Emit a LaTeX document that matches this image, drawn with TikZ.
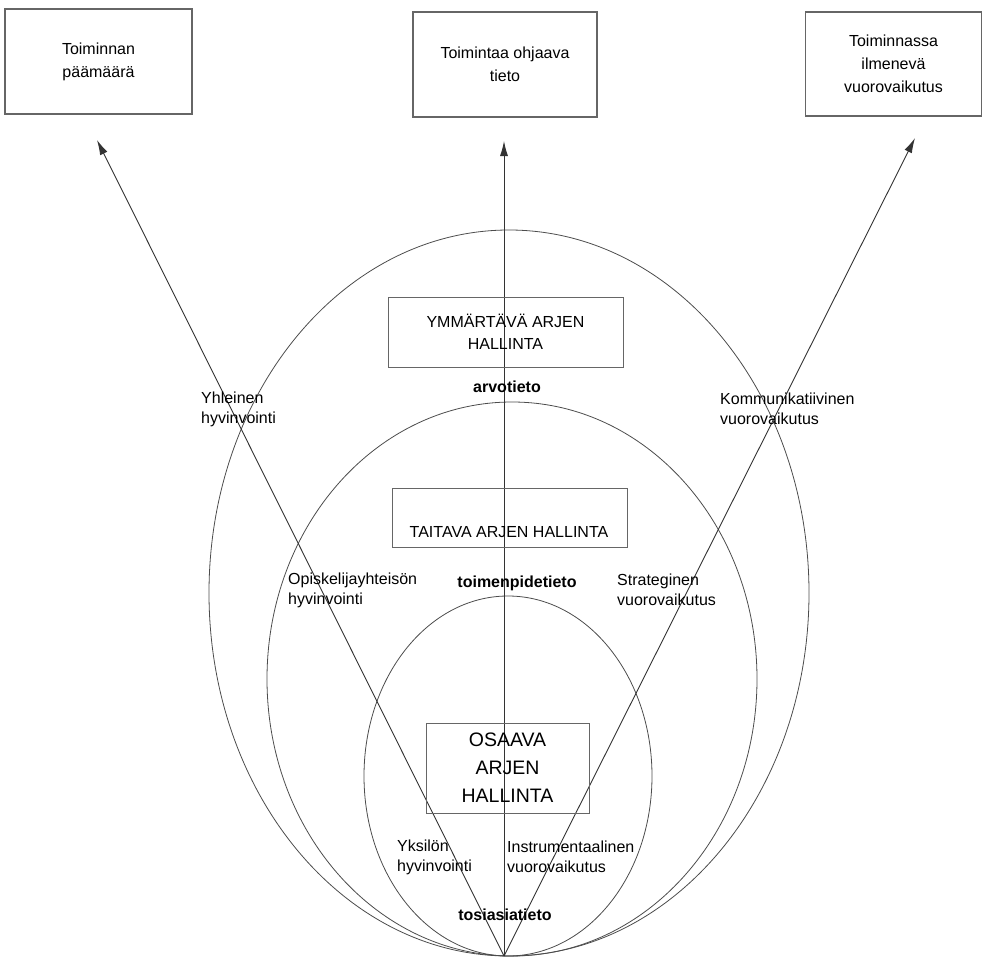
\documentclass[tikz,border=0pt]{standalone}
\usepackage{fontspec}
\setmainfont{Liberation Sans}
\usetikzlibrary{arrows.meta}
\begin{document}
\begin{tikzpicture}[x=1pt,y=-1pt,
  topbox/.style={draw=black!60, line width=1.1pt, align=center, inner sep=0pt,
    font=\fontsize{16pt}{23pt}\selectfont},
  levelbox/.style={draw=black!60, line width=0.9pt, inner sep=0pt},
  lbl/.style={align=left, inner sep=0pt, anchor=west, font=\fontsize{16pt}{20pt}\selectfont},
  boldlbl/.style={inner sep=0pt, font=\bfseries\fontsize{16pt}{20pt}\selectfont},
  ring/.style={draw=black!70, line width=0.8pt},
  arrowline/.style={draw=black!80, line width=0.9pt, -{Latex[length=15pt,width=8pt]}}]
\useasboundingbox (0,0) rectangle (983,958);

% top boxes
\node[topbox, minimum width=187pt, minimum height=105pt] (goal) at (98.5,61.5) {Toiminnan\\päämäärä};
\node[topbox, minimum width=184pt, minimum height=105pt] (knowledge) at (505,64.5) {Toimintaa ohjaava\\tieto};
\node[topbox, minimum width=176pt, minimum height=104pt] (interaction) at (893.5,64) {Toiminnassa\\ilmenevä\\vuorovaikutus};

% ellipses
\draw[ring] (509,593) ellipse [x radius=300pt, y radius=363pt];
\draw[ring] (512,679) ellipse [x radius=245pt, y radius=277pt];
\draw[ring] (508,776) ellipse [x radius=144pt, y radius=180pt];

% arrows
\coordinate (base) at (504,956);
\coordinate (tipL) at (97,140);
\coordinate (tipM) at (504,141);
\coordinate (tipR) at (915,138);
\draw[arrowline] (base) -- (tipL);
\draw[arrowline] (base) -- (tipM);
\draw[arrowline] (base) -- (tipR);

% level boxes
\node[levelbox, minimum width=235pt, minimum height=70pt, align=center,
  font=\fontsize{16pt}{22pt}\selectfont] (ymm) at (505.5,332) {YMMÄRTÄVÄ ARJEN\\HALLINTA};
\node[levelbox, minimum width=235pt, minimum height=59pt] (taitavabox) at (509.5,517.5) {};
\node[inner sep=0pt, font=\fontsize{16pt}{20pt}\selectfont] (taitava) at (509,532) {TAITAVA ARJEN HALLINTA};
\node[levelbox, minimum width=163pt, minimum height=90pt, align=center,
  font=\fontsize{19.5pt}{28pt}\selectfont] (osaava) at (507.5,768) {OSAAVA\\ARJEN\\HALLINTA};

% knowledge labels
\node[boldlbl] (arvo) at (507,387) {arvotieto};
\node[boldlbl] (toimenpide) at (517,583) {toimenpidetieto};
\node[boldlbl] (tosiasia) at (505,915) {tosiasiatieto};

% side labels
\node[lbl] (yhleinen) at (201,409) {Yhleinen\\hyvinvointi};
\node[lbl] (kommunikatiivinen) at (720,409) {Kommunikatiivinen\\vuorovaikutus};
\node[lbl] (opiskelija) at (288,590) {Opiskelijayhteisön\\hyvinvointi};
\node[lbl] (strateginen) at (617,590) {Strateginen\\vuorovaikutus};
\node[lbl] (yksilo) at (397,857) {Yksilön\\hyvinvointi};
\node[lbl] (instrumentaalinen) at (507,857) {Instrumentaalinen\\vuorovaikutus};
\end{tikzpicture}
\end{document}
